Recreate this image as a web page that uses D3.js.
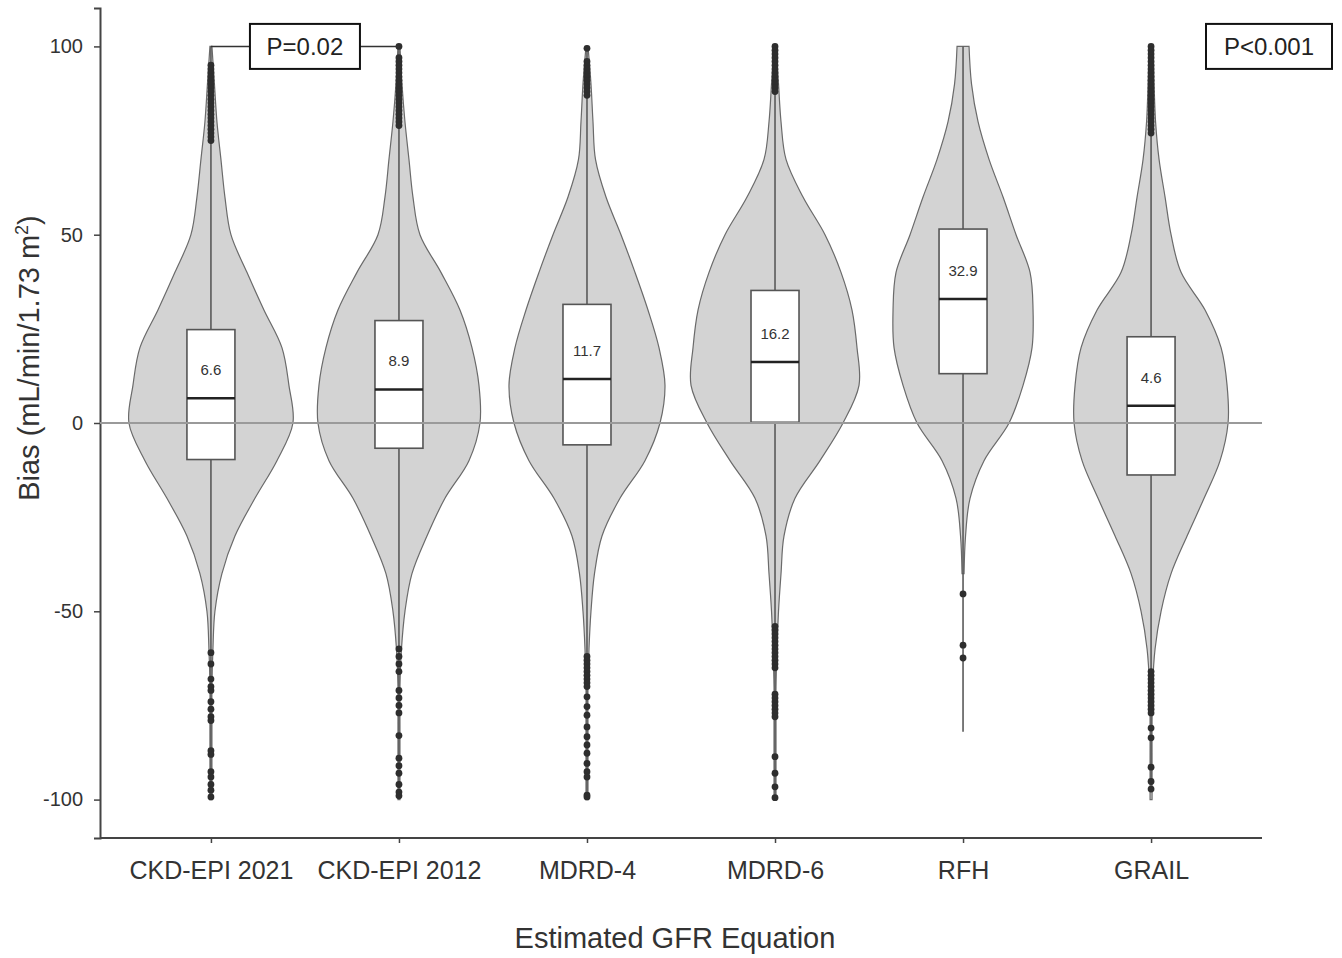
<!DOCTYPE html>
<html>
<head>
<meta charset="utf-8">
<script src="https://cdn.jsdelivr.net/npm/d3@7"></script>
<style>
  body { margin: 0; background: #fff; }
  text { font-family: "Liberation Sans", Arial, sans-serif; }
</style>
</head>
<body>
<div id="chart"></div>
<script>
const categories = ['CKD-EPI 2021', 'CKD-EPI 2012', 'MDRD-4', 'MDRD-6', 'RFH', 'GRAIL'];

// box plot summary (bias, mL/min/1.73 m2)
const medians = [6.6, 8.9, 11.7, 16.2, 32.9, 4.6];
const q1 = [-9.7, -6.7, -5.8, 0.2, 13.1, -13.8];
const q3 = [24.8, 27.2, 31.5, 35.2, 51.5, 22.9];
const whiskerLo = [-99.3, -99, -99.3, -99.5, -82, -97.5];
const whiskerHi = [100, 100, 99.8, 100, 100, 100];

// kernel density (relative), sampled on this grid
const densityGrid = [100, 90, 80, 70, 60, 50, 40, 30, 20, 10, 0, -10, -20, -30, -40, -50, -60, -70, -80, -90, -100];
const densityCkd2021 = [0.01, 0.035, 0.06, 0.10, 0.14, 0.20, 0.36, 0.53, 0.71, 0.78, 0.82, 0.66, 0.44, 0.24, 0.11, 0.04, 0.02, 0.01, 0.01, 0.01, 0.01];
const densityCkd2012 = [0.01, 0.03, 0.06, 0.10, 0.14, 0.21, 0.42, 0.61, 0.73, 0.80, 0.81, 0.70, 0.46, 0.28, 0.13, 0.06, 0.025, 0.01, 0.01, 0.01, 0.01];
const densityMdrd4 = [0.01, 0.04, 0.06, 0.085, 0.19, 0.34, 0.48, 0.61, 0.72, 0.78, 0.73, 0.58, 0.33, 0.15, 0.075, 0.04, 0.02, 0.01, 0.01, 0.01, 0.01];
const densityMdrd6 = [0.01, 0.035, 0.06, 0.11, 0.28, 0.50, 0.66, 0.77, 0.82, 0.84, 0.68, 0.45, 0.20, 0.09, 0.06, 0.035, 0.02, 0.01, 0.01, 0.01, 0.01];
const densityRfh = [0.06, 0.085, 0.15, 0.26, 0.40, 0.53, 0.67, 0.70, 0.69, 0.60, 0.46, 0.21, 0.07, 0.025, 0.01, 0, 0, 0, 0, 0, 0];
const densityGrail = [0.02, 0.03, 0.045, 0.08, 0.14, 0.20, 0.30, 0.54, 0.70, 0.76, 0.77, 0.69, 0.53, 0.36, 0.20, 0.10, 0.04, 0.015, 0.01, 0.01, 0.01];
const densities = [densityCkd2021, densityCkd2012, densityMdrd4, densityMdrd6, densityRfh, densityGrail];

// outliers
const outliersCkd2021 = [95, 94, 93, 92, 91, 90, 89, 88, 87, 86, 85, 84, 83, 82, 81, 80, 79, 78, 77, 76, 75,
  -61, -64, -68, -70, -71, -74, -76, -78, -79, -87, -88, -92.6, -94, -96, -97.5, -99.3];
const outliersCkd2012 = [100, 97, 96, 95, 94, 93, 92, 91, 90, 89, 88, 87, 86, 85, 84, 83, 82, 81, 80, 79,
  -60, -62, -64, -66, -71, -73, -75, -77, -83, -89, -91, -93, -96, -98, -99];
const outliersMdrd4 = [99.5, 96, 95, 94, 93, 92, 91, 90, 89, 88, 87,
  -62, -63, -64, -65, -66, -67, -68, -69, -70, -72.7, -75.3, -77.6, -80.7, -83.3, -85.5, -87.7, -90.4, -92.6, -94, -98.8, -99.3];
const outliersMdrd6 = [100, 99, 98, 97, 96, 95, 94, 93, 92, 91, 90, 89, 88,
  -54, -55, -56, -57, -58, -59, -60, -61, -62, -63, -64, -65, -72, -73, -74, -75, -76, -77, -78, -88.6, -93, -96.6, -99.5];
const outliersRfh = [-45.4, -59, -62.4];
const outliersGrail = [100, 99, 98, 97, 96, 95, 94, 93, 92, 91, 90, 89, 88, 87, 86, 85, 84, 83, 82, 81, 80, 79, 78, 77,
  -66, -67, -68, -69, -70, -71, -72, -73, -74, -75, -76, -77, -81, -83.6, -91.4, -95.2, -97.2];
const outliers = [outliersCkd2021, outliersCkd2012, outliersMdrd4, outliersMdrd6, outliersRfh, outliersGrail];

const yTicks = [-100, -50, 0, 50, 100];
const pairLabel = 'P=0.02';
const overallLabel = 'P<0.001';

let width = 1342,
    height = 958;

let svg = d3.select('#chart').append('svg')
  .attr('width', width)
  .attr('height', height)
  .style('display', 'block');

let x = d3.scalePoint()
  .domain(categories)
  .range([100, 1262])
  .padding(0.59);

let y = d3.scaleLinear()
  .domain([-110.2, 110.2])
  .range([838, 8]);

let w = d3.scaleLinear().domain([0, 1]).range([0, 100]);

// axes
let yAxis = svg.append('g')
  .attr('transform', 'translate(100,0)')
  .call(d3.axisLeft(y).tickValues(yTicks).tickFormat(d => String(d)).tickSize(6).tickPadding(11));
yAxis.select('.domain').attr('stroke', '#444').attr('stroke-width', 2);
yAxis.selectAll('.tick line').attr('stroke', '#444').attr('stroke-width', 1.5);
yAxis.selectAll('.tick text').attr('font-size', 20).attr('fill', '#333')
  .style('font-family', '"Liberation Sans", Arial, sans-serif');

let xAxis = svg.append('g')
  .attr('transform', 'translate(0,838)')
  .call(d3.axisBottom(x).tickSizeInner(5).tickSizeOuter(0).tickPadding(18));
xAxis.select('.domain').attr('stroke', '#444').attr('stroke-width', 2)
  .attr('d', 'M100,0H1262');
xAxis.selectAll('.tick line').attr('stroke', '#444').attr('stroke-width', 1.5);
xAxis.selectAll('.tick text').attr('font-size', 25).attr('fill', '#333')
  .style('font-family', '"Liberation Sans", Arial, sans-serif');

svg.append('text')
  .attr('x', 675)
  .attr('y', 948)
  .attr('text-anchor', 'middle')
  .attr('font-size', 29)
  .attr('fill', '#333')
  .text('Estimated GFR Equation');

let yTitle = svg.append('text')
  .attr('transform', 'translate(39,358) rotate(-90)')
  .attr('text-anchor', 'middle')
  .attr('font-size', 29)
  .attr('fill', '#333');
yTitle.append('tspan').text('Bias (mL/min/1.73 m');
yTitle.append('tspan').attr('font-size', 18).attr('dy', -11).text('2');
yTitle.append('tspan').attr('dy', 11).text(')');

// violins
let area = d3.area()
  .y(d => y(d.v))
  .x0(d => d.cx - w(d.dens))
  .x1(d => d.cx + w(d.dens))
  .curve(d3.curveCatmullRom);

let violins = svg.append('g').classed('violins', true);
categories.forEach(function(cat, i) {
  let pts = densityGrid.map((v, j) => ({ v: v, dens: densities[i][j], cx: x(cat) }))
    .filter(d => d.dens > 0);
  violins.append('path')
    .attr('d', area(pts))
    .style('fill', '#d3d3d3')
    .style('stroke', '#6a6a6a')
    .style('stroke-width', 1.2);
});

// whiskers
svg.append('g').selectAll('line')
  .data(categories)
  .enter().append('line')
    .attr('x1', d => x(d))
    .attr('x2', d => x(d))
    .attr('y1', (d, i) => y(whiskerHi[i]))
    .attr('y2', (d, i) => y(whiskerLo[i]))
    .style('stroke', '#5a5a5a')
    .style('stroke-width', 1.6);

// outlier dots
let dots = svg.append('g');
categories.forEach(function(cat, i) {
  dots.selectAll(null)
    .data(outliers[i])
    .enter().append('circle')
      .attr('cx', x(cat))
      .attr('cy', d => y(d))
      .attr('r', 3.4)
      .style('fill', '#2e2e2e');
});

// pairwise bracket
svg.append('path')
  .attr('d', 'M' + x(categories[0]) + ',' + y(100) + 'H' + x(categories[1]))
  .style('fill', 'none')
  .style('stroke', '#333')
  .style('stroke-width', 1.5);

// boxes
let boxW = 48;
let boxes = svg.append('g').selectAll('g')
  .data(categories)
  .enter().append('g');

boxes.append('rect')
  .attr('x', d => x(d) - boxW / 2)
  .attr('y', (d, i) => y(q3[i]))
  .attr('width', boxW)
  .attr('height', (d, i) => y(q1[i]) - y(q3[i]))
  .style('fill', '#fff')
  .style('stroke', '#555')
  .style('stroke-width', 1.6);

// zero reference line
svg.append('line')
  .attr('x1', 100)
  .attr('x2', 1262)
  .attr('y1', y(0))
  .attr('y2', y(0))
  .style('stroke', '#9a9a9a')
  .style('stroke-width', 2);

boxes.append('line')
  .attr('x1', d => x(d) - boxW / 2)
  .attr('x2', d => x(d) + boxW / 2)
  .attr('y1', (d, i) => y(medians[i]))
  .attr('y2', (d, i) => y(medians[i]))
  .style('stroke', '#222')
  .style('stroke-width', 2.5);

boxes.append('text')
  .attr('x', d => x(d))
  .attr('y', (d, i) => y(medians[i]) - 23)
  .attr('text-anchor', 'middle')
  .attr('font-size', 15)
  .attr('fill', '#333')
  .text((d, i) => medians[i].toFixed(1));

// p-value labels
function pBox(cx, cy, bw, label) {
  let g = svg.append('g');
  g.append('rect')
    .attr('x', cx - bw / 2)
    .attr('y', cy - 22.5)
    .attr('width', bw)
    .attr('height', 45)
    .style('fill', '#fff')
    .style('stroke', '#111')
    .style('stroke-width', 2);
  g.append('text')
    .attr('x', cx)
    .attr('y', cy + 8.5)
    .attr('text-anchor', 'middle')
    .attr('font-size', 24)
    .attr('fill', '#222')
    .text(label);
}
pBox((x(categories[0]) + x(categories[1])) / 2, y(100), 110, pairLabel);
pBox(1269, y(100), 126, overallLabel);
</script>
</body>
</html>
